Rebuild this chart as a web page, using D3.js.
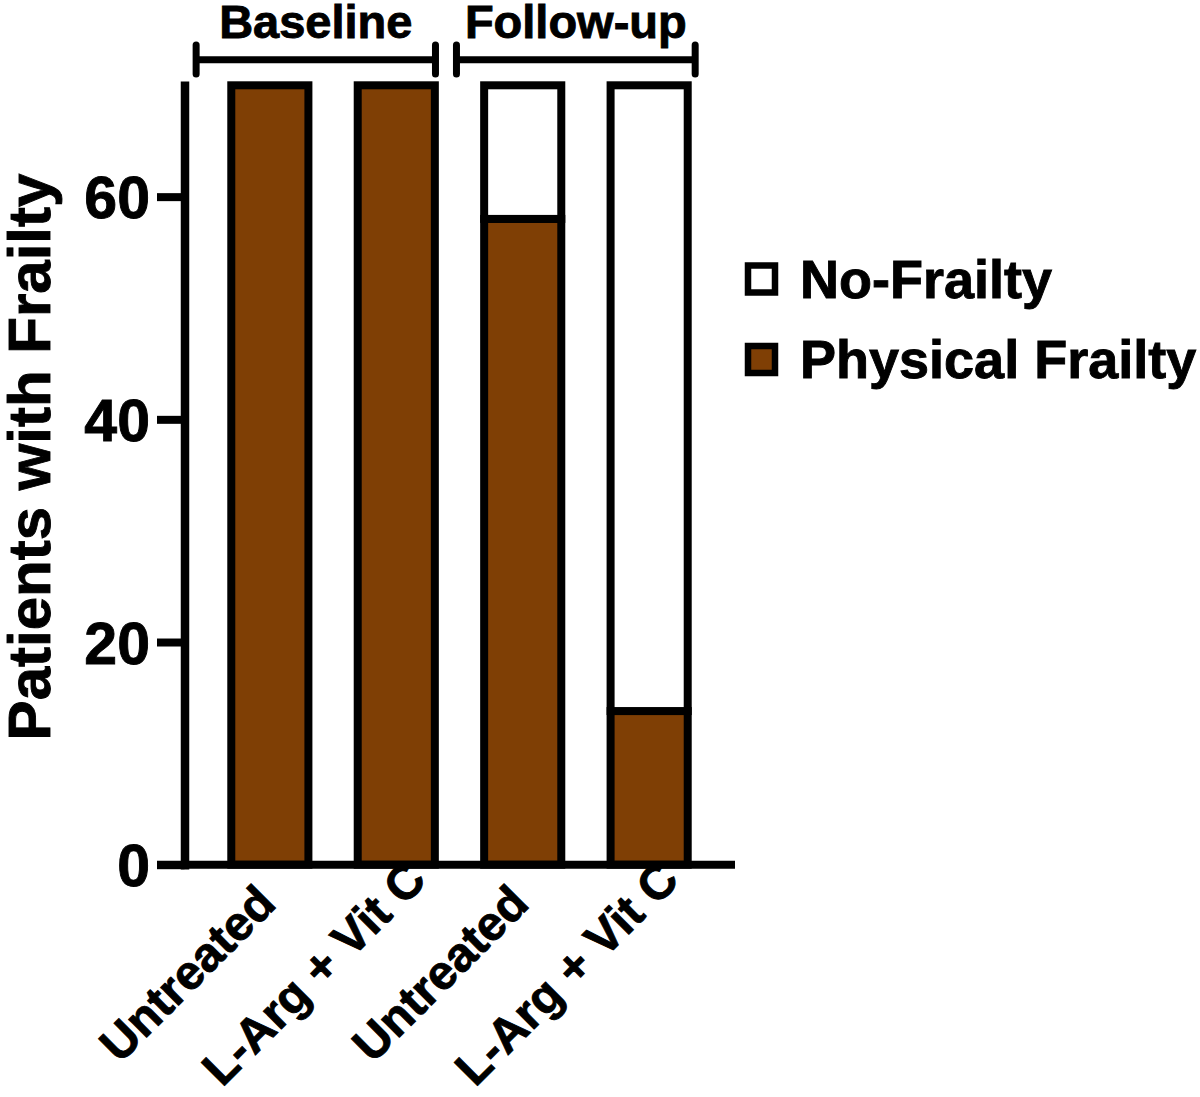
<!DOCTYPE html>
<html>
<head>
<meta charset="utf-8">
<script src="https://cdn.jsdelivr.net/npm/d3@7"></script>
<style>
    body { margin: 0; background: #fff; }
    text { font-family: "Liberation Sans", Arial, sans-serif; font-weight: bold; fill: #000; stroke: #000; stroke-width: 0.9px; }
</style>
</head>
<body>
<div id="viz"></div>
<script>
/*################
#     Data       #
##################*/

// the four bars, left to right (two baseline, two follow-up)
var categories = ["Untreated", "L-Arg + Vit C", "Untreated", "L-Arg + Vit C"];
var physicalFrailty = [70, 70, 58, 13.8];
var noFrailty = [0, 0, 12, 56.2];
var yTicks = [0, 20, 40, 60];

// brackets over the bars, start / end given in bar-index units
var groupLabels = ["Baseline", "Follow-up"];
var groupFrom = [-0.583, 1.476];
var groupTo = [1.31, 3.364];

var seriesNames = ["No-Frailty", "Physical Frailty"];
var seriesColors = ["#ffffff", "#7f3f05"];

/*################
#       D3       #
##################*/

var width = 1200, height = 1097;

var svg = d3.select("#viz").append("svg")
    .attr("width", width)
    .attr("height", height)
    .style("background", "#fff");

// x: one band per bar
var x = d3.scaleBand()
    .domain(d3.range(categories.length))
    .range([184.5, 734.5])
    .paddingInner(0.39)
    .paddingOuter(0.37);

// bar index -> pixel centre, used for the brackets
var xi = d3.scaleLinear()
    .domain([0, 1])
    .range([x(0) + x.bandwidth() / 2, x(1) + x.bandwidth() / 2]);

var y = d3.scaleLinear()
    .domain([0, 70])
    .range([864.7, 85.3]);

// stacked bars: physical frailty at the bottom, no-frailty on top
var bars = svg.append("g");

bars.selectAll("rect.phys")
    .data(physicalFrailty)
    .enter()
    .append("rect")
    .attr("class", "phys")
    .attr("x", function(d, i) { return x(i); })
    .attr("width", x.bandwidth())
    .attr("y", function(d) { return y(d); })
    .attr("height", function(d) { return y(0) - y(d); })
    .attr("fill", seriesColors[1])
    .attr("stroke", "#000")
    .attr("stroke-width", 8);

bars.selectAll("rect.none")
    .data(noFrailty)
    .enter()
    .append("rect")
    .attr("class", "none")
    .attr("x", function(d, i) { return x(i); })
    .attr("width", x.bandwidth())
    .attr("y", function(d, i) { return y(d + physicalFrailty[i]); })
    .attr("height", function(d, i) { return y(physicalFrailty[i]) - y(d + physicalFrailty[i]); })
    .attr("fill", seriesColors[0])
    .attr("stroke", "#000")
    .attr("stroke-width", 8);

// Y axis
var yAxis = svg.append("g")
    .attr("transform", "translate(184.5,0)")
    .call(d3.axisLeft(y).tickValues(yTicks).tickSize(27.5).tickPadding(7).tickSizeOuter(0));

yAxis.select(".domain")
    .attr("stroke-width", 8.5)
    .attr("stroke-linecap", "square");
yAxis.selectAll(".tick line").attr("stroke-width", 8);
yAxis.selectAll(".tick text")
    .attr("font-size", 59)
    .attr("dy", "0.36em");

// X axis - only the line, labels are rotated by hand below
var xAxis = svg.append("g")
    .attr("transform", "translate(0," + y(0) + ")")
    .call(d3.axisBottom(x).tickSize(0).tickFormat(""));

xAxis.select(".domain")
    .attr("d", "M157,0H735")
    .attr("stroke-width", 8);

svg.append("g").selectAll("text")
    .data(categories)
    .enter()
    .append("text")
    .attr("transform", function(d, i) {
        return "translate(" + (x(i) + x.bandwidth() / 2 - 71) + ",985) rotate(-45)";
    })
    .attr("text-anchor", "middle")
    .attr("font-size", 48)
    .text(function(d) { return d; });

// Y axis title
svg.append("text")
    .attr("transform", "translate(50,457) rotate(-90)")
    .attr("text-anchor", "middle")
    .attr("font-size", 60)
    .text("Patients with Frailty");

// group brackets (Baseline / Follow-up)
var brackets = svg.append("g").selectAll("g")
    .data(groupLabels)
    .enter()
    .append("g");

brackets.append("line")
    .attr("x1", function(d, i) { return xi(groupFrom[i]); })
    .attr("x2", function(d, i) { return xi(groupTo[i]); })
    .attr("y1", 59.7)
    .attr("y2", 59.7)
    .attr("stroke", "#000")
    .attr("stroke-width", 7);

brackets.append("line")
    .attr("x1", function(d, i) { return xi(groupFrom[i]); })
    .attr("x2", function(d, i) { return xi(groupFrom[i]); })
    .attr("y1", 45)
    .attr("y2", 74)
    .attr("stroke", "#000")
    .attr("stroke-width", 7)
    .attr("stroke-linecap", "round");

brackets.append("line")
    .attr("x1", function(d, i) { return xi(groupTo[i]); })
    .attr("x2", function(d, i) { return xi(groupTo[i]); })
    .attr("y1", 45)
    .attr("y2", 74)
    .attr("stroke", "#000")
    .attr("stroke-width", 7)
    .attr("stroke-linecap", "round");

brackets.append("text")
    .attr("x", function(d, i) { return (xi(groupFrom[i]) + xi(groupTo[i])) / 2; })
    .attr("y", 38)
    .attr("text-anchor", "middle")
    .attr("font-size", 47)
    .text(function(d) { return d; });

// legend
var legend = svg.append("g").selectAll("g")
    .data(seriesNames)
    .enter()
    .append("g")
    .attr("transform", function(d, i) { return "translate(748," + (265.5 + i * 80.5) + ")"; });

legend.append("rect")
    .attr("width", 27)
    .attr("height", 27)
    .attr("fill", function(d, i) { return seriesColors[i]; })
    .attr("stroke", "#000")
    .attr("stroke-width", 6.5);

legend.append("text")
    .attr("x", 52)
    .attr("y", 32)
    .attr("font-size", 54)
    .text(function(d) { return d; });
</script>
</body>
</html>
